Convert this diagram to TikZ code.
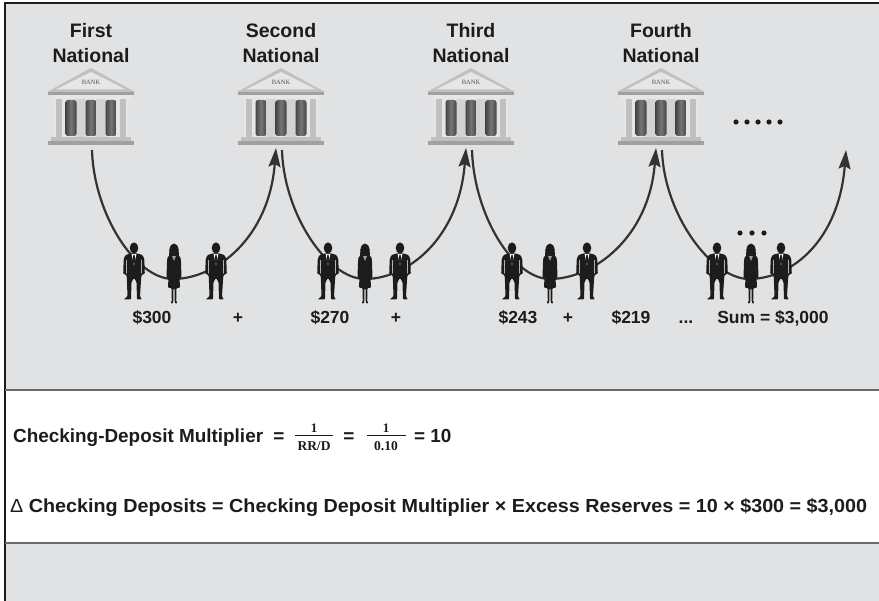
\documentclass[tikz,border=0pt]{standalone}
\usepackage{fontspec}
\usepackage{graphicx}
\setmainfont{Liberation Sans}
\newfontfamily\bankserif{Liberation Serif}
\usetikzlibrary{arrows.meta,calc}

\definecolor{panel}{HTML}{E1E2E3}
\definecolor{ink}{HTML}{1C1C1C}
\definecolor{rulecol}{HTML}{6A6A6A}
\definecolor{flowcol}{HTML}{333333}
\definecolor{banklight}{HTML}{E6E6E6}
\definecolor{bankmid}{HTML}{C0C0C0}
\definecolor{bankdark}{HTML}{A0A0A0}
\definecolor{banktext}{HTML}{555555}
\definecolor{colA}{HTML}{444444}
\definecolor{colB}{HTML}{767676}

\newcommand\setfs[1]{\fontsize{#1}{#1}\selectfont}

\tikzset{
  banklabel/.style={font=\bfseries\setfs{19.5}, text=ink, inner sep=0pt, anchor=base},
  money/.style={font=\bfseries\setfs{17.5}, text=ink, inner sep=0pt, anchor=base},
  formula/.style={font=\bfseries\setfs{18.9}, text=ink, inner sep=0pt, anchor=base},
  fracnum/.style={font=\bankserif\bfseries\setfs{13}, text=ink, inner sep=0pt},
  fracden/.style={font=\bankserif\bfseries\setfs{13.5}, text=ink, inner sep=0pt},
  flow/.style={draw=flowcol, line width=2.2pt,
    -{Stealth[length=19pt,width=12pt,inset=3pt]}},
  % a bank building, origin at the top of the pediment
  bank/.pic={
    \fill[bankmid] (-44,24) -- (0,0) -- (44,24) -- cycle;
    \fill[banklight] (-35,21.5) -- (0,4) -- (35,21.5) -- cycle;
    \node[font=\bankserif\setfs{6.5}, text=banktext, inner sep=0pt] (-sign) at (0,14.5) {BANK};
    \fill[bankdark] (-43,24) rectangle (43,27.5);
    \fill[banklight] (-40,27.5) rectangle (40,31);
    \fill[banklight] (-37,31) rectangle (37,69);
    \fill[bankmid] (-35,31) rectangle (-29,69);
    \fill[bankmid] (29,31) rectangle (35,69);
    \fill[bankmid!70!white] (-15,31) rectangle (-5,69);
    \fill[bankmid!70!white] (5,31) rectangle (15,69);
    \foreach \cx in {-20,0,20}{
      \shade[left color=colA, right color=colA, middle color=colB, rounded corners=2.5pt]
        (\cx-5.5,32) rectangle (\cx+5.5,68);
    }
    \fill[bankmid] (-40,69) rectangle (40,73);
    \fill[bankdark] (-43,73) rectangle (43,77);
    \coordinate (-out) at (1,82);
    \coordinate (-in) at (-5,80);
  },
  % a man in a suit, origin at the top of the head
  man/.pic={
    \fill[ink] (0,6) ellipse [x radius=4.3, y radius=5.6];
    \fill[ink, rounded corners=1pt]
      (-2.2,11.2) -- (-8.5,13) -- (-10.3,17) -- (-10.8,32) -- (-8,32.5)
      -- (-7.2,35) -- (-6.5,54.5) -- (-10.5,57.5) -- (-3,57.5) -- (-2.5,40)
      -- (0,36) -- (2.5,40) -- (3,57.5) -- (8,57.5) -- (6,54.5) -- (7.2,35)
      -- (8,32.5) -- (10.8,32) -- (10.3,17) -- (8.5,13) -- (2.2,11.2) -- cycle;
    \fill[white] (-2.4,11.8) -- (2.4,11.8) -- (0,23.5) -- cycle;
    \fill[ink] (-0.7,12.6) -- (0.7,12.6) -- (1,20) -- (0,22.5) -- (-1,20) -- cycle;
    \draw[white, line width=0.5pt] (-7.4,18) -- (-7.7,31.5);
    \draw[white, line width=0.5pt] (7.4,18) -- (7.7,31.5);
  },
  % a woman in a dress, origin at the top of the head
  woman/.pic={
    \fill[ink] (0,6.5) ellipse [x radius=4.4, y radius=6];
    \fill[ink] (-4.5,6) -- (-5,13) -- (5,13) -- (4.5,6) -- cycle;
    \fill[ink, rounded corners=1pt]
      (-3,12) -- (-6.5,14) -- (-7,19) -- (-7.5,35) -- (-5.5,35.5) -- (-5.2,27)
      -- (-6,45) -- (-2.5,45) -- (-2.2,58) -- (-3.5,60.5) -- (-0.8,60.5)
      -- (-0.5,45.5) -- (0.5,45.5) -- (0.8,60.5) -- (3.5,60.5) -- (2.2,58)
      -- (2.5,45) -- (6,45) -- (5.2,27) -- (5.5,35.5) -- (7.5,35) -- (7,19)
      -- (6.5,14) -- (3,12) -- cycle;
    \fill[bankdark] (-1.8,13.2) -- (1.8,13.2) -- (0,18) -- cycle;
  }
}

\begin{document}
\begin{tikzpicture}[x=1pt,y=-1pt]
\useasboundingbox (0,0) rectangle (879,601);

% panels
\fill[white] (0,0) rectangle (879,601);
\fill[panel] (5,3) rectangle (879,390);
\fill[panel] (5,543) rectangle (879,601);
\draw[ink, line width=1.6pt] (5,601) -- (5,3) -- (879,3);
\draw[rulecol, line width=1.6pt] (5,390) -- (879,390);
\draw[rulecol, line width=1.6pt] (5,543) -- (879,543);

% bank names
\node[banklabel] (n1a) at (91,38) {First};
\node[banklabel] (n1b) at (91,63) {National};
\node[banklabel] (n2a) at (281,38) {Second};
\node[banklabel] (n2b) at (281,63) {National};
\node[banklabel] (n3a) at (471,38) {Third};
\node[banklabel] (n3b) at (471,63) {National};
\node[banklabel] (n4a) at (661,38) {Fourth};
\node[banklabel] (n4b) at (661,63) {National};

% banks
\pic (bank1) at (91,68) {bank};
\pic (bank2) at (281,68) {bank};
\pic (bank3) at (471,68) {bank};
\pic (bank4) at (661,68) {bank};

% further banks
\foreach \i in {0,...,4} \fill[ink] (736+11*\i,122) circle (2.6);

% lowest points of the lending loops
\coordinate (g1low) at (173,279);
\coordinate (g2low) at (365,279);
\coordinate (g3low) at (550,279);
\coordinate (g4low) at (749,279);
\coordinate (tail) at (846,150);

% lending loops
\draw[flow] (bank1-out) .. controls ($(bank1-out)+(2,65)$) and ($(g1low)+(-37,0)$) .. (g1low)
  .. controls ($(g1low)+(43,0)$) and ($(bank2-in)+(-7,90)$) .. (bank2-in);
\draw[flow] (bank2-out) .. controls ($(bank2-out)+(2,65)$) and ($(g2low)+(-37,0)$) .. (g2low)
  .. controls ($(g2low)+(43,0)$) and ($(bank3-in)+(-7,90)$) .. (bank3-in);
\draw[flow] (bank3-out) .. controls ($(bank3-out)+(2,65)$) and ($(g3low)+(-37,0)$) .. (g3low)
  .. controls ($(g3low)+(43,0)$) and ($(bank4-in)+(-7,90)$) .. (bank4-in);
\draw[flow] (bank4-out) .. controls ($(bank4-out)+(2,65)$) and ($(g4low)+(-37,0)$) .. (g4low)
  .. controls ($(g4low)+(43,0)$) and ($(tail)+(-7,90)$) .. (tail);

% borrowers and depositors
\pic (p1a) at (134,242) {man};
\pic (p1b) at (174,243) {woman};
\pic (p1c) at (216,242) {man};
\pic (p2a) at (328,242) {man};
\pic (p2b) at (365,243) {woman};
\pic (p2c) at (400,242) {man};
\pic (p3a) at (512,242) {man};
\pic (p3b) at (550,243) {woman};
\pic (p3c) at (587,242) {man};
\pic (p4a) at (717,242) {man};
\pic (p4b) at (751,243) {woman};
\pic (p4c) at (781,242) {man};
\foreach \i in {0,1,2} \fill[ink] (740+12*\i,233) circle (2.6);

% deposits created
\node[money] (m1) at (152,324) {\$300};
\node[money] (s1) at (238,324) {+};
\node[money] (m2) at (330,324) {\$270};
\node[money] (s2) at (396,324) {+};
\node[money] (m3) at (518,324) {\$243};
\node[money] (s3) at (568,324) {+};
\node[money] (m4) at (631,324) {\$219};
\node[money] (s4) at (686,324) {...};
\node[money] (sum) at (773,324) {Sum = \$3,000};

% multiplier formula
\node[formula, anchor=base west] (f1) at (13,443) {Checking-Deposit Multiplier};
\node[formula] (eq1) at (279,443) {=};
\node[fracnum] (num1) at (314,428) {1};
\node[fracden] (den1) at (314,446) {RR/D};
\draw[ink, line width=1pt] (295,436) -- (333,436);
\node[formula] (eq2) at (349,443) {=};
\node[fracnum] (num2) at (386,428) {1};
\node[fracden] (den2) at (386,446) {0.10};
\draw[ink, line width=1pt] (367,436) -- (406,436);
\node[formula, anchor=base west] (eq3) at (414,443) {= 10};

% change in deposits
\node[formula, anchor=base west] (f2) at (10,512.5)
  {\resizebox{857pt}{\height}{{\mdseries\char"0394}\ Checking Deposits = Checking Deposit Multiplier \char"00D7\ Excess Reserves = 10 \char"00D7\ \$300 = \$3,000}};
\end{tikzpicture}
\end{document}
